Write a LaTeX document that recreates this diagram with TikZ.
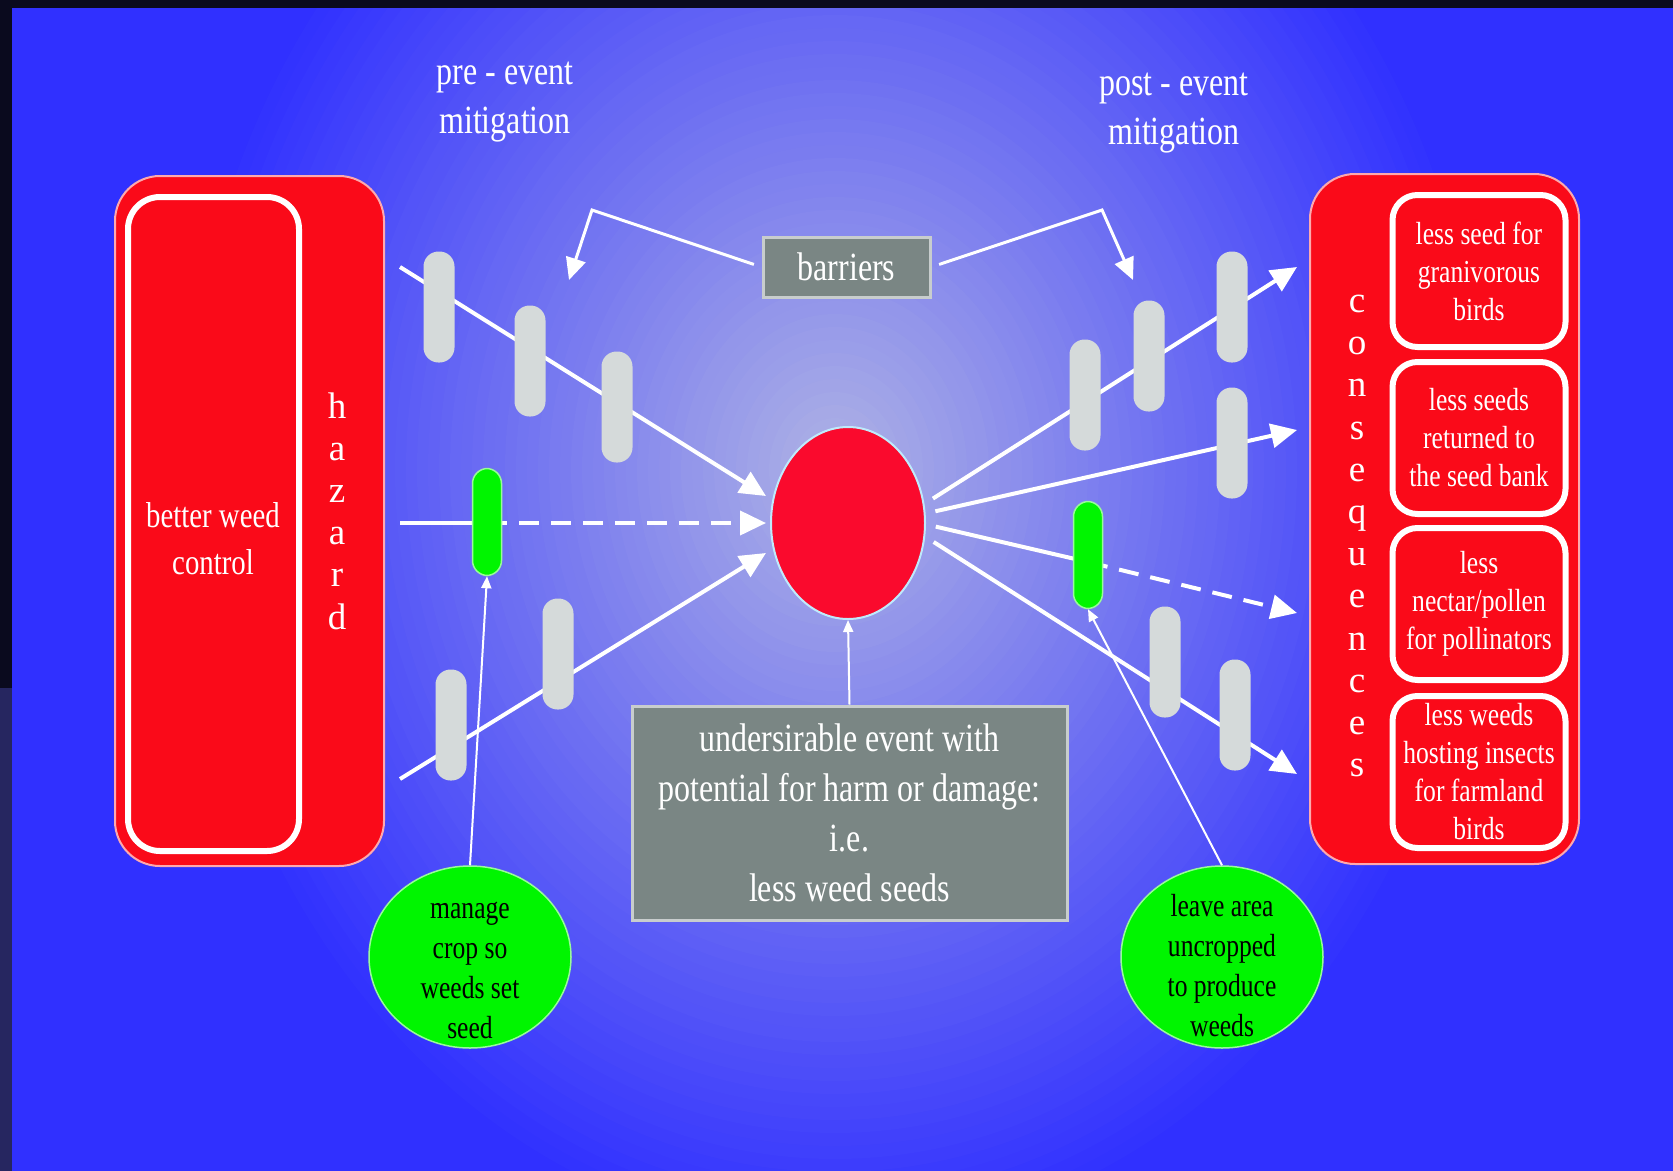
\documentclass[tikz,border=0pt]{standalone}
\usepackage{fontspec}
\setmainfont{Liberation Serif}[FakeStretch=0.8]
\newfontfamily\letfont{Liberation Serif}
\usetikzlibrary{arrows.meta,shapes.geometric}
\definecolor{bgblue}{RGB}{48,48,255}
\definecolor{bglight}{RGB}{176,180,228}
\definecolor{stripdark}{RGB}{10,10,30}
\definecolor{stripslate}{RGB}{38,38,96}
\definecolor{hazred}{RGB}{250,10,25}
\definecolor{eventred}{RGB}{250,10,45}
\definecolor{leafgreen}{RGB}{0,245,0}
\definecolor{pillgray}{RGB}{213,218,218}
\definecolor{boxgray}{RGB}{122,134,132}
\definecolor{boxedge}{RGB}{200,205,205}
\begin{document}
\begin{tikzpicture}[x=1pt,y=-1pt,
 redbox/.style={rectangle,rounded corners=45pt,fill=hazred,draw=hazred!35!white,line width=2pt,minimum width=269pt,minimum height=690pt},
 redinner/.style={rectangle,rounded corners=32pt,fill=hazred,draw=white,line width=6pt},
 boxtext/.style={text=white,align=center,inner sep=0pt,font=\fontsize{36}{47}\selectfont},
 spelt/.style={text=white,align=center,inner sep=0pt,font=\letfont\fontsize{37}{42.2}\selectfont},
 conbox/.style={rectangle,rounded corners=25pt,fill=hazred,draw=white,line width=6pt,minimum width=173pt,minimum height=152pt,inner sep=0pt,text=white,align=center,font=\fontsize{32}{38}\selectfont},
 graybox/.style={rectangle,fill=boxgray,draw=boxedge,line width=3pt,text=white,align=center,font=\fontsize{40}{50}\selectfont},
 leaf/.style={ellipse,fill=leafgreen,draw=leafgreen!40!white,line width=1.5pt,minimum width=202pt,minimum height=182pt,inner sep=0pt},
 leaftext/.style={align=center,inner sep=0pt,font=\fontsize{32}{40}\selectfont},
 note/.style={text=white,align=center,font=\fontsize{40}{49}\selectfont},
 pill/.style={rectangle,rounded corners=15pt,fill=pillgray,minimum width=31pt,minimum height=111pt,inner sep=0pt},
 gpill/.style={pill,fill=leafgreen,draw=leafgreen!40!white,line width=1.5pt,minimum width=29pt,minimum height=107pt},
 conn/.style={white,line width=4pt},
 thinconn/.style={white,line width=2pt},
 bigtip/.style={-{Triangle[length=26pt,width=24pt]}},
 midtip/.style={-{Triangle[length=22pt,width=20pt]}},
 smalltip/.style={-{Triangle[length=12pt,width=10pt]}},
 dashline/.style={dash pattern=on 20pt off 12pt}]
\useasboundingbox (0,0) rectangle (1673,1170);
\fill[stripdark] (-10,-10) rectangle (1690,1190);
\fill[stripslate] (-10,688) rectangle (12,1190);
\begin{scope}
\clip (12,8) rectangle (1690,1190);
\fill[bgblue] (12,8) rectangle (1690,1190);
\foreach \i in {60,59,...,1}{
 \pgfmathsetmacro\p{int(round(\i/60*100))}
 \pgfmathsetmacro\rx{\i/60*660}
 \pgfmathsetmacro\ry{\i/60*780}
 \fill[bgblue!\p!bglight] (835,470) ellipse [x radius=\rx, y radius=\ry];
}
\end{scope}
\node[note] (pre) at (505,102) {pre - event\\mitigation};
\node[note] (post) at (1174,113) {post - event\\mitigation};
\node[redbox] (hazbox) at (249.5,521) {};
\node[redinner,minimum width=171pt,minimum height=654pt] (cause) at (213.5,524) {};
\node[boxtext] (causetxt) at (213,539) {better weed\\control};
\node[spelt] (hazard) at (337,511) {h\\a\\z\\a\\r\\d};
\node[redbox] (consbox) at (1444.5,519) {};
\node[spelt] (conseq) at (1357,536) {c\\o\\n\\s\\e\\q\\u\\e\\n\\c\\e\\s};
\node[conbox] (con1) at (1479,271) {less seed for\\granivorous\\birds};
\node[conbox] (con2) at (1479,438) {less seeds\\returned to\\the seed bank};
\node[conbox] (con3) at (1479,604) {less\\nectar/pollen\\for pollinators};
\node[conbox] (con4) at (1479,772) {less weeds\\hosting insects\\for farmland\\birds};
\node[ellipse,fill=eventred,draw=white!75!cyan,line width=2pt,minimum width=154pt,minimum height=192pt] (event) at (848,523) {};
\node[graybox,minimum width=167pt,minimum height=60pt] (barriers) at (846.5,267) {barriers};
\node[graybox,minimum width=435pt,minimum height=214pt] (harm) at (849.5,813) {undersirable event with\\potential for harm or damage:\\i.e.\\less weed seeds};
\node[leaf] (manage) at (470,957) {};
\node[leaftext] (managetxt) at (470,970) {manage\\crop so\\weeds set\\seed};
\node[leaf] (leave) at (1222,957) {};
\node[leaftext] (leavetxt) at (1222,966) {leave area\\uncropped\\to produce\\weeds};
\coordinate (h1) at (400,267);
\coordinate (h2) at (400,523);
\coordinate (h3) at (400,779);
\coordinate (e1) at (766,496);
\coordinate (e2) at (766,523);
\coordinate (e3) at (766,553);
\coordinate (gl) at (487,523);
\coordinate (gr) at (1088,562);
\coordinate (r1) at (1297,267);
\coordinate (r2) at (1297,430);
\coordinate (r3) at (1297,613);
\coordinate (r4) at (1297,774);
\coordinate (k1) at (592,210);
\coordinate (k1e) at (569,280);
\coordinate (k2) at (1102,210);
\coordinate (k2e) at (1133,280);
\draw[conn,bigtip] (h1) -- (e1);
\draw[conn] (h2) -- (gl);
\draw[conn,dashline,bigtip] (gl) -- (e2);
\draw[conn,bigtip] (h3) -- (e3);
\draw[conn,bigtip,shorten <=10pt] (event.14) -- (r1);
\draw[conn,bigtip,shorten <=10pt] (event.7) -- (r2);
\draw[conn,shorten <=10pt] (event.-1) -- (gr);
\draw[conn,dashline,bigtip] (gr) -- (r3);
\draw[conn,bigtip,shorten <=10pt] (event.-10) -- (r4);
\draw[line width=3pt,white,midtip,shorten <=8pt] (barriers.west) -- (k1) -- (k1e);
\draw[line width=3pt,white,midtip,shorten <=8pt] (barriers.east) -- (k2) -- (k2e);
\node[pill] (bar0) at (439,307) {};
\node[pill] (bar1) at (530,361) {};
\node[pill] (bar2) at (617,407) {};
\node[gpill] (gpl) at (487,522) {};
\node[pill] (bar3) at (451,725) {};
\node[pill] (bar4) at (558,654) {};
\node[pill] (bar5) at (1085,395) {};
\node[pill] (bar6) at (1149,356) {};
\node[pill] (bar7) at (1232,307) {};
\node[pill] (bar8) at (1232,443) {};
\node[gpill] (gpr) at (1088,555) {};
\node[pill] (bar9) at (1165,662) {};
\node[pill] (bar10) at (1235,715) {};
\draw[thinconn,smalltip] (harm.north) -- (event.south);
\draw[thinconn,smalltip] (manage.north) -- (gpl.south);
\draw[thinconn,smalltip] (leave.north) -- (gpr.south);
\end{tikzpicture}
\end{document}
